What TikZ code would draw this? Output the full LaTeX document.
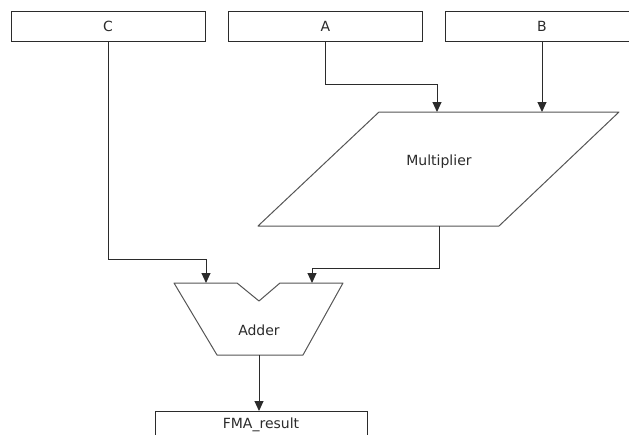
\documentclass[tikz,border=0pt]{standalone}
\usepackage{fontspec}
\setmainfont{DejaVu Sans}
\usepackage{tikz}
\usetikzlibrary{shapes.geometric,arrows.meta,positioning}
\definecolor{lineGray}{HTML}{2B2B2B}

\begin{document}
\begin{tikzpicture}[x=1pt, y=-1pt,
    every node/.style={font=\fontsize{14}{16}\selectfont, text=lineGray},
    inbox/.style={draw=lineGray, line width=1pt, minimum width=194pt,
                  minimum height=30pt, inner sep=0pt},
    unit/.style={draw=lineGray!80, line width=1pt, line join=round},
    conn/.style={draw=lineGray, line width=1pt,
                 -{Triangle[length=10pt, width=9pt]}}]
    \clip (0,0) rectangle (629,434);
    % input boxes
    \node[inbox] (c) at (108,26.5) {C};
    \node[inbox] (a) at (325.5,26.5) {A};
    \node[inbox] (b) at (542,26.5) {B};
    % multiplier
    \draw[unit] (379,112) -- (619,112) -- (499,226) -- (258,226) -- cycle;
    \coordinate (mul in1) at (437,112);
    \coordinate (mul in2) at (542,112);
    \coordinate (mul out) at (439,226);
    \node (mul) at (439,161.5) {Multiplier};
    % adder
    \draw[unit] (174,283) -- (237,283) -- (259,301) -- (280,283)
        -- (343,283) -- (303,355) -- (217,355) -- cycle;
    \coordinate (add in1) at (206,283);
    \coordinate (add in2) at (312,283);
    \coordinate (add out) at (259,355);
    \node (add) at (259,330) {Adder};
    % result box
    \node[inbox, minimum width=212pt, minimum height=26pt, anchor=north]
          (fma) at (261,411) {FMA\_result};
    % connectors
    \draw[conn] (a.south) -- ++(0,42) -| (mul in1);
    \draw[conn] (b.south) -- (b.south |- mul in2);
    \draw[conn] (c.south) -- ++(0,217) -| (add in1);
    \draw[conn] (mul out) -- ++(0,42) -| (add in2);
    \draw[conn] (add out) -- (add out |- fma.north);
\end{tikzpicture}
\end{document}
